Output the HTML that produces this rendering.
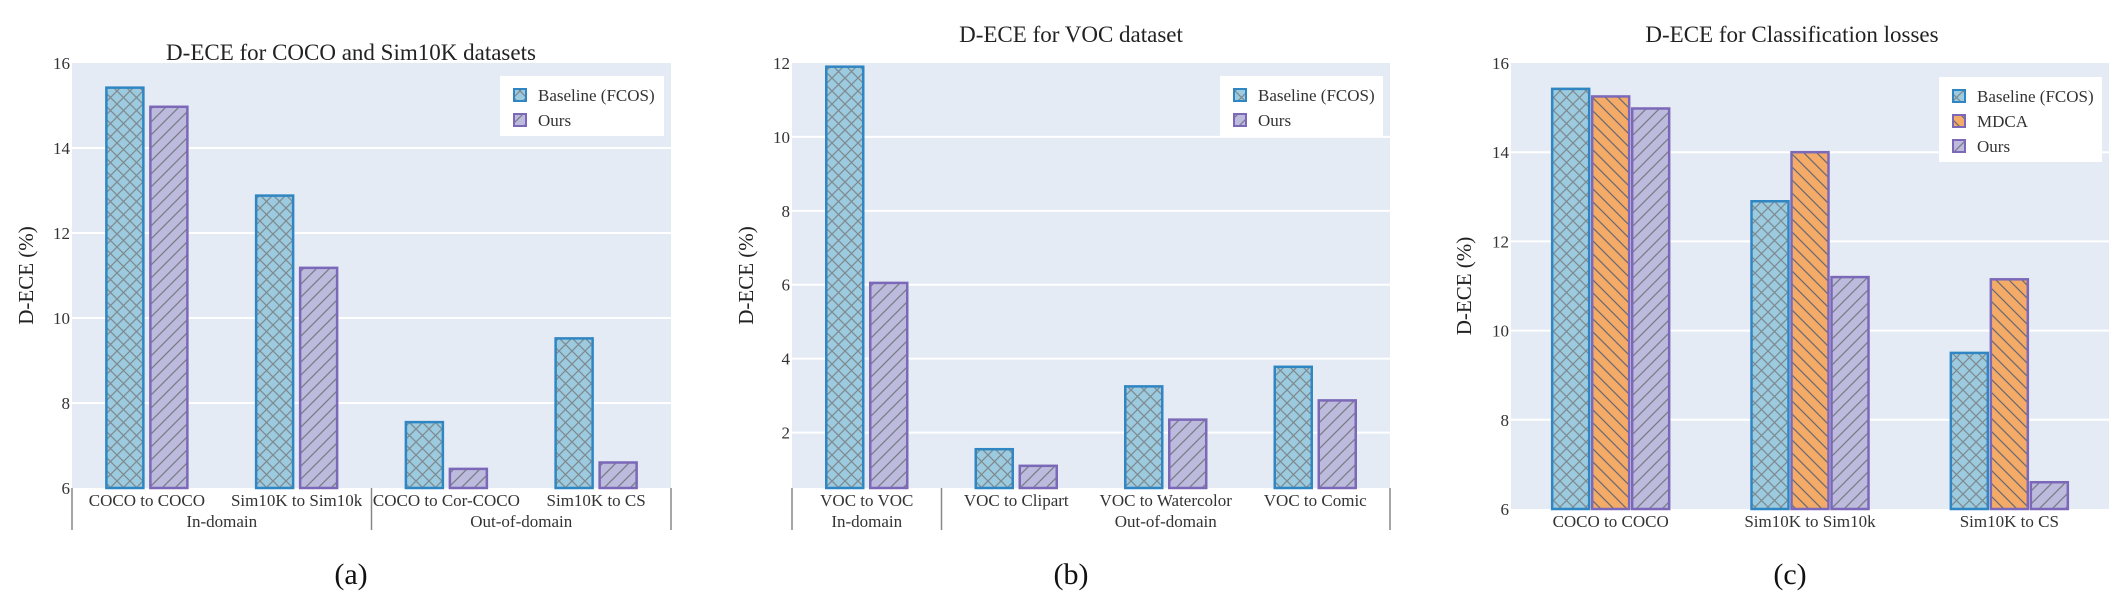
<!DOCTYPE html>
<html><head><meta charset="utf-8">
<style>
html,body{margin:0;padding:0;background:#fff;}
svg{display:block;font-family:"Liberation Serif",serif;}
</style></head>
<body>
<svg id="fig" width="2122" height="614" viewBox="0 0 2122 614" xmlns="http://www.w3.org/2000/svg">
<defs>
<pattern id="hatchX" patternUnits="userSpaceOnUse" width="13" height="13">
<rect width="13" height="13" fill="#9ccbe0"/>
<path d="M0,0L13,13M13,0L0,13" stroke="#7f8a90" stroke-width="1.3"/>
</pattern>
<pattern id="hatchF" patternUnits="userSpaceOnUse" width="13" height="13">
<rect width="13" height="13" fill="#bcbbdd"/>
<path d="M-2,15L15,-2M-4,4L4,-4M9,17L17,9" stroke="#7b7b86" stroke-width="1.3"/>
</pattern>
<pattern id="hatchB" patternUnits="userSpaceOnUse" width="13" height="13">
<rect width="13" height="13" fill="#f4ab68"/>
<path d="M-2,-2L15,15M-4,9L4,17M9,-4L17,4" stroke="#6e6a72" stroke-width="1.3"/>
</pattern>
</defs>
</svg>
<script>
// ---- Panel (a) data ----
const catsA = ["COCO to COCO", "Sim10K to Sim10k", "COCO to Cor-COCO", "Sim10K to CS"];
const baselineA = [15.42, 12.88, 7.55, 9.52];
const oursA = [14.97, 11.18, 6.45, 6.6];
const ticksA = [6, 8, 10, 12, 14, 16];
// ---- Panel (b) data ----
const catsB = ["VOC to VOC", "VOC to Clipart", "VOC to Watercolor", "VOC to Comic"];
const baselineB = [11.9, 1.55, 3.25, 3.78];
const oursB = [6.05, 1.1, 2.35, 2.87];
const ticksB = [2, 4, 6, 8, 10, 12];
// ---- Panel (c) data ----
const catsC = ["COCO to COCO", "Sim10K to Sim10k", "Sim10K to CS"];
const baselineC = [15.42, 12.9, 9.5];
const mdcaC = [15.25, 14.0, 11.15];
const oursC = [14.98, 11.2, 6.6];
const ticksC = [6, 8, 10, 12, 14, 16];

const NS = "http://www.w3.org/2000/svg";
const svg = document.getElementById("fig");
function mk(tag, attrs, parent, text) {
  const e = document.createElementNS(NS, tag);
  for (const k in attrs) e.setAttribute(k, attrs[k]);
  if (text !== undefined) e.textContent = text;
  (parent || svg).appendChild(e);
  return e;
}
const STY = {
  base: {fill: "url(#hatchX)", stroke: "#2f86c3"},
  mdca: {fill: "url(#hatchB)", stroke: "#7b68b8"},
  ours: {fill: "url(#hatchF)", stroke: "#7b68b8"}
};

function panel(cfg) {
  const g = mk("g", {});
  
  
  const {x0, x1, y0, y1, ymin, ymax} = cfg;
  const yS = v => y1 - (v - ymin) / (ymax - ymin) * (y1 - y0);
  const bg = mk("rect", {x: x0, y: y0, width: x1 - x0, height: y1 - y0, fill: "#e5ebf5"}, g);
  
  
  cfg.ticks.forEach(t => {
    const y = yS(t);
    if (t > ymin && t < ymax) {
      const gl = mk("line", {x1: x0, x2: x1, y1: y, y2: y, stroke: "#fff", "stroke-width": 2}, g);
      
      
    }
    const tl = mk("text", {x: x0 - 2, y: y + 6, "text-anchor": "end", "font-size": 17, fill: "#333"}, g, String(t));
    
    
  });
  const yt = mk("text", {x: cfg.ylx, y: (y0 + y1) / 2, "text-anchor": "middle", "font-size": 21, fill: "#222",
    transform: `rotate(-90 ${cfg.ylx} ${(y0 + y1) / 2})`}, g, "D-ECE (%)");
  
  
  const tt = mk("text", {x: cfg.tx, y: cfg.ty, "text-anchor": "middle", "font-size": 23, fill: "#222"}, g, cfg.title);
  
  
  const n = cfg.cats.length, gw = (x1 - x0) / n, bw = 37, step = cfg.series.length === 3 ? 40 : 44;
  cfg.cats.forEach((c, i) => {
    const cx = x0 + gw * (i + 0.5);
    cfg.series.forEach((s, j) => {
      const bx = cx + (j - (cfg.series.length - 1) / 2) * step - bw / 2;
      const top = yS(s.values[i]);
      const r = mk("rect", {x: bx, y: top, width: bw, height: y1 - top, fill: STY[s.key].fill,
        stroke: STY[s.key].stroke, "stroke-width": 2.5}, g);
      
      
    });
    const cl = mk("text", {x: cx, y: cfg.cy, "text-anchor": "middle", "font-size": 17, fill: "#333"}, g, c);
    
    
  });
  (cfg.groups || []).forEach(gr => {
    const gl = mk("text", {x: x0 + gw * (gr.from + gr.to + 1) / 2, y: cfg.cy + 21, "text-anchor": "middle", "font-size": 17, fill: "#333"}, g, gr.label);
    
    
  });
  (cfg.seps || []).forEach(k => {
    const sx = x0 + gw * k;
    const sl = mk("line", {x1: sx, x2: sx, y1: y1, y2: y1 + 42, stroke: "#888", "stroke-width": 1.5}, g);
    
    
  });
  const L = cfg.legend;
  const lg = mk("g", {}, g);
  
  
  mk("rect", {x: L.x, y: L.y, width: L.w, height: L.h, fill: "#fff"}, lg);
  cfg.series.forEach((s, j) => {
    const ry = L.y + 19 + j * 25;
    const sw = mk("rect", {x: L.x + 14, y: ry - 6, width: 12, height: 12, fill: STY[s.key].fill, stroke: STY[s.key].stroke, "stroke-width": 2}, lg);
    
    
    const lt = mk("text", {x: L.x + 38, y: ry + 6, "font-size": 17, fill: "#333"}, lg, s.label);
    
    
  });
  const pl = mk("text", {x: cfg.px, y: cfg.py, "text-anchor": "middle", "font-size": 30, fill: "#111"}, g, cfg.plabel);
  
  
}

panel({name: "chart-a", x0: 72, x1: 671, y0: 63, y1: 488, ymin: 6, ymax: 16, ticks: ticksA, cats: catsA,
  series: [{key: "base", label: "Baseline (FCOS)", values: baselineA}, {key: "ours", label: "Ours", values: oursA}],
  title: "D-ECE for COCO and Sim10K datasets", tx: 351, ty: 60, ylx: 33, cy: 506,
  groups: [{from: 0, to: 1, label: "In-domain"}, {from: 2, to: 3, label: "Out-of-domain"}], seps: [0, 2, 4],
  legend: {x: 500, y: 76, w: 164, h: 60}, plabel: "(a)", px: 351, py: 584});

panel({name: "chart-b", x0: 792, x1: 1390, y0: 63, y1: 488, ymin: 0.5, ymax: 12, ticks: ticksB, cats: catsB,
  series: [{key: "base", label: "Baseline (FCOS)", values: baselineB}, {key: "ours", label: "Ours", values: oursB}],
  title: "D-ECE for VOC dataset", tx: 1071, ty: 42, ylx: 753, cy: 506,
  groups: [{from: 0, to: 0, label: "In-domain"}, {from: 1, to: 3, label: "Out-of-domain"}], seps: [0, 1, 4],
  legend: {x: 1220, y: 76, w: 163, h: 60}, plabel: "(b)", px: 1071, py: 584});

panel({name: "chart-c", x0: 1511, x1: 2109, y0: 63, y1: 509, ymin: 6, ymax: 16, ticks: ticksC, cats: catsC,
  series: [{key: "base", label: "Baseline (FCOS)", values: baselineC}, {key: "mdca", label: "MDCA", values: mdcaC}, {key: "ours", label: "Ours", values: oursC}],
  title: "D-ECE for Classification losses", tx: 1792, ty: 42, ylx: 1471, cy: 527,
  groups: [], seps: [],
  legend: {x: 1939, y: 77, w: 163, h: 85}, plabel: "(c)", px: 1790, py: 584});
</script>
</body></html>
